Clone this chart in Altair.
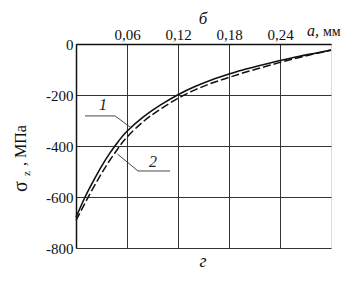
import altair as alt
import pandas as pd

# curve 1 (solid)
a1 = [0.0, 0.01, 0.02, 0.03, 0.04, 0.05, 0.06, 0.08, 0.10, 0.12, 0.14, 0.16, 0.18, 0.20, 0.22, 0.24, 0.26, 0.28, 0.30]
s1 = [-680, -605, -540, -480, -427, -381, -342, -284, -238, -199, -167, -140, -118, -98, -81, -65, -50, -37, -24]
# curve 2 (dashed)
a2 = [0.0, 0.01, 0.02, 0.03, 0.04, 0.05, 0.06, 0.08, 0.10, 0.12, 0.14, 0.16, 0.18, 0.20, 0.22, 0.24, 0.26, 0.28, 0.30]
s2 = [-692, -628, -566, -508, -455, -407, -365, -302, -254, -213, -180, -153, -131, -110, -91, -72, -55, -39, -24]

x_ticks = [0.06, 0.12, 0.18, 0.24]
y_ticks = [-800, -600, -400, -200, 0]

# leader lines for labels
lead1_a = [0.0106, 0.0459, 0.0647]
lead1_s = [-282, -282, -328]
lead2_a = [0.0490, 0.0729, 0.1106]
lead2_s = [-432, -498, -498]
lab_a = [0.0318, 0.0906]
lab_s = [-239, -463]
lab_t = ["1", "2"]

SERIF = "Liberation Serif"

d1 = pd.DataFrame({"a": a1, "s": s1})
d2 = pd.DataFrame({"a": a2, "s": s2})
dl = pd.DataFrame({"a": lead1_a + lead2_a, "s": lead1_s + lead2_s,
                   "g": ["1"] * 3 + ["2"] * 3, "o": [0, 1, 2] * 2})
dt = pd.DataFrame({"a": lab_a, "s": lab_s, "t": lab_t})

xs = alt.Scale(domain=[0, 0.30], nice=False, zero=False)
ys = alt.Scale(domain=[-800, 0], nice=False)

xax = alt.Axis(orient="top", values=x_ticks, title=None, grid=True, ticks=False,
               labelExpr="replace(format(datum.value, '.2f'), '.', ',')",
               labelFont=SERIF, labelFontSize=15, labelColor="#111", labelPadding=2,
               domainColor="#111", domainWidth=1.5, gridColor="#333", gridWidth=1)
yax = alt.Axis(values=y_ticks, title=None, grid=True, ticks=False,
               labelExpr="'' + datum.value",
               labelFont=SERIF, labelFontSize=15, labelColor="#111", labelPadding=3,
               domainColor="#111", domainWidth=1.5, gridColor="#333", gridWidth=1)

c1 = alt.Chart(d1).mark_line(color="#111", strokeWidth=1.6, interpolate="natural").encode(
    x=alt.X("a:Q", scale=xs, axis=xax), y=alt.Y("s:Q", scale=ys, axis=yax))
c2 = alt.Chart(d2).mark_line(color="#111", strokeWidth=1.5, strokeDash=[8, 3], interpolate="natural").encode(
    x=alt.X("a:Q", scale=xs), y=alt.Y("s:Q", scale=ys))
leads = alt.Chart(dl).mark_line(color="#333", strokeWidth=0.9).encode(
    x=alt.X("a:Q", scale=xs), y=alt.Y("s:Q", scale=ys), detail="g:N", order="o:Q")
labs = alt.Chart(dt).mark_text(font=SERIF, fontSize=16, fontStyle="italic", color="#222").encode(
    x=alt.X("a:Q", scale=xs), y=alt.Y("s:Q", scale=ys), text="t:N")

def txt(t, x, y, size=15, style="normal", angle=0, align="center", baseline="middle", weight="normal"):
    return alt.Chart(pd.DataFrame({"t": [t]})).mark_text(
        font=SERIF, fontSize=size, fontStyle=style, angle=angle, align=align,
        baseline=baseline, fontWeight=weight, color="#111").encode(
        x=alt.value(x), y=alt.value(y), text="t:N")

extras = [
    txt("б", 127, -20, size=17, style="italic", baseline="alphabetic"),
    txt("г", 127, 218, size=18, style="italic"),
    txt("a,", 231, -8, size=16, style="italic", align="left", baseline="alphabetic"),
    txt("мм", 247, -8, size=14, align="left", baseline="alphabetic"),
    txt("σ", -49, 148, size=20, angle=270, align="left", baseline="alphabetic"),
    txt("z", -46, 132, size=11, angle=270, align="left", baseline="alphabetic"),
    txt(", МПа", -50, 122, size=16, angle=270, align="left", baseline="alphabetic"),
]

chart = alt.layer(c1, c2, leads, labs, *extras).properties(
    width=255, height=204,
    autosize=alt.AutoSizeParams(type="none"),
    padding={"left": 68, "top": 36, "right": 14, "bottom": 25},
).configure_view(stroke="#333", strokeWidth=1).configure(background="white")

chart.save("out.html", embed_options={"renderer": "svg", "actions": False})
